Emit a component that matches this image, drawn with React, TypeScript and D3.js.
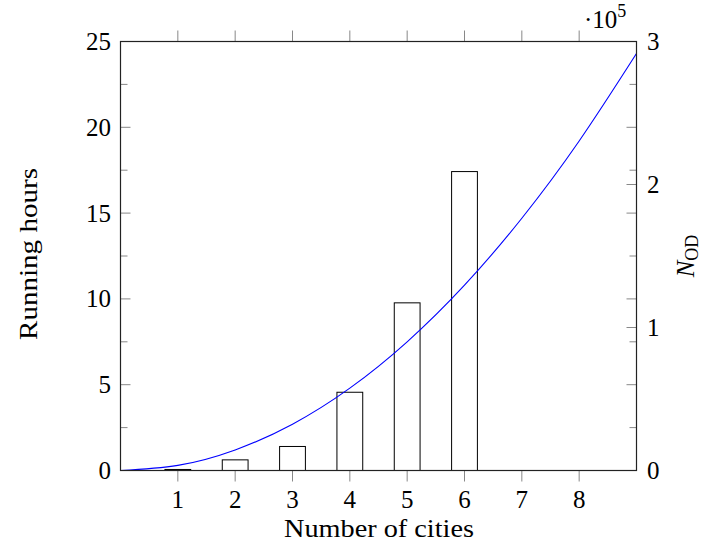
import React from "react";
import * as d3 from "d3";

const cities = [1, 2, 3, 4, 5, 6, 7, 8];
const runningHours = [0.06, 0.62, 1.4, 4.56, 9.77, 17.42, 0, 0];
const curveX = [0, 1, 2, 3, 4, 5, 6, 7, 8, 9];
const curveNod = [0, 3600, 14400, 32400, 57600, 90000, 129600, 176400, 230400, 291600];
const xTicks = [1, 2, 3, 4, 5, 6, 7, 8];
const leftMajor = [0, 5, 10, 15, 20, 25];
const leftMinor = [2.5, 7.5, 12.5, 17.5, 22.5];
const rightMajor = [0, 1, 2, 3];

const W = 704, H = 544;
const X0 = 120.5, X1 = 636.5, Y0 = 470.5, Y1 = 41.5;
const FONT = "'Liberation Serif', 'Times New Roman', serif";

export default function App() {
  const x = d3.scaleLinear().domain([0, 9]).range([X0, X1]);
  const yL = d3.scaleLinear().domain([0, 25]).range([Y0, Y1]);
  const yR = d3.scaleLinear().domain([0, 300000]).range([Y0, Y1]);
  const line = d3
    .line<number>()
    .x((_, i) => x(curveX[i]))
    .y((d) => yR(d))
    .curve(d3.curveNatural);
  const bw = x(0.45) - x(0);
  const tickC = "#888";
  const fs = 25;
  return (
    <svg width={W} height={H} style={{ position: "absolute", left: 0, top: 0, background: "#fff" }}>
      {cities.map((c, i) => (
        <rect key={c} x={x(c) - bw / 2} y={yL(runningHours[i])} width={bw}
          height={Math.max(0, yL(0) - yL(runningHours[i]))} fill="#fff" stroke="#000" strokeWidth={1} />
      ))}
      <path d={line(curveNod) || ""} fill="none" stroke="#0000ff" strokeWidth={1.1} />
      {xTicks.map((t) => (
        <g key={t}>
          <line x1={x(t)} x2={x(t)} y1={Y0} y2={Y0 + 11} stroke={tickC} />
          <line x1={x(t)} x2={x(t)} y1={Y1} y2={Y1 - 11} stroke={tickC} />
          <text x={x(t)} y={508} textAnchor="middle" fontFamily={FONT} fontSize={fs}>{t}</text>
        </g>
      ))}
      {leftMajor.map((t) => (
        <g key={"lm" + t}>
          <line x1={X0} x2={X0 + 10} y1={yL(t)} y2={yL(t)} stroke={tickC} />
          <line x1={X1} x2={X1 - 10} y1={yL(t)} y2={yL(t)} stroke={tickC} />
          <text x={111} y={yL(t) + 8.5} textAnchor="end" fontFamily={FONT} fontSize={fs}>{t}</text>
        </g>
      ))}
      {leftMinor.map((t) => (
        <g key={"ln" + t}>
          <line x1={X0} x2={X0 + 7} y1={yL(t)} y2={yL(t)} stroke={tickC} />
          <line x1={X1} x2={X1 - 7} y1={yL(t)} y2={yL(t)} stroke={tickC} />
        </g>
      ))}
      {rightMajor.map((t) => (
        <g key={"r" + t}>
          <line x1={X1} x2={X1 - 10} y1={yR(t * 1e5)} y2={yR(t * 1e5)} stroke={tickC} />
          <text x={647} y={yR(t * 1e5) + 8.5} textAnchor="start" fontFamily={FONT} fontSize={fs}>{t}</text>
        </g>
      ))}
      <rect x={X0} y={Y1} width={X1 - X0} height={Y0 - Y1} fill="none" stroke="#222" strokeWidth={1.2} />
      <text x={379} y={537} textAnchor="middle" fontFamily={FONT} fontSize={fs}
        textLength={190} lengthAdjust="spacingAndGlyphs">Number of cities</text>
      <text transform={`translate(37,254) rotate(-90)`} textAnchor="middle" fontFamily={FONT} fontSize={fs}
        textLength={172} lengthAdjust="spacingAndGlyphs">Running hours</text>
      <text transform={`translate(694,256) rotate(-90)`} textAnchor="middle" fontFamily={FONT} fontSize={fs}>
        <tspan fontStyle="italic">N</tspan>
        <tspan fontSize={18} dy={4}>OD</tspan>
      </text>
      <text x={584} y={28} fontFamily={FONT} fontSize={fs}>
        ·10<tspan fontSize={18} dy={-11}>5</tspan>
      </text>
    </svg>
  );
}
